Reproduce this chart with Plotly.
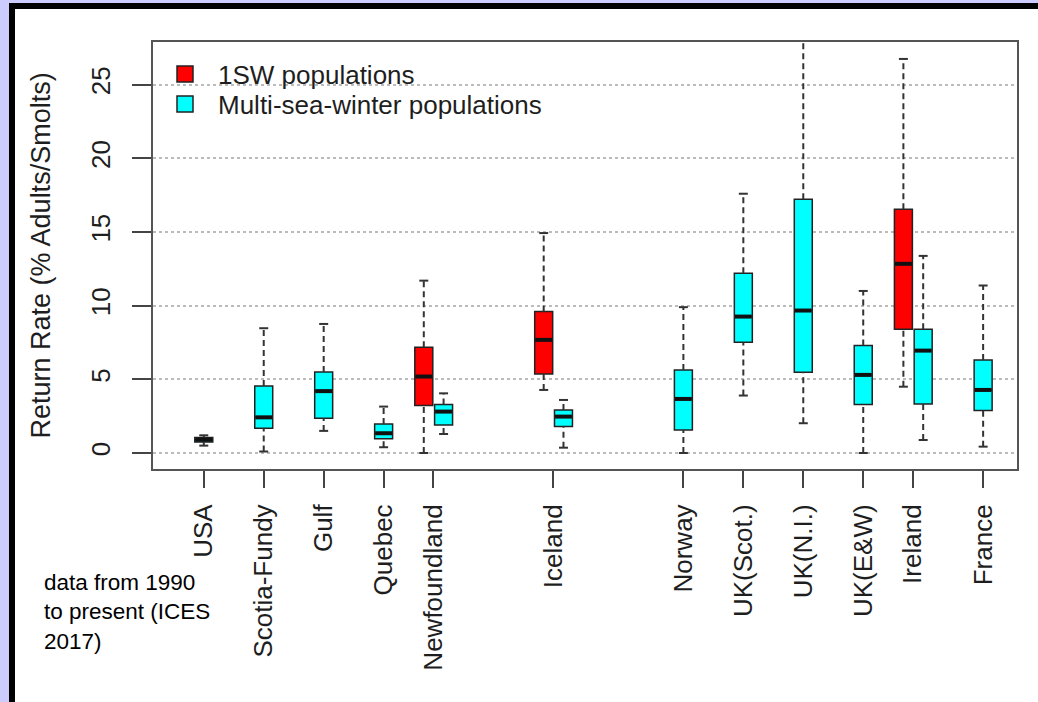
import plotly.graph_objects as go

# ---- data ----
categories = ["USA", "Scotia-Fundy", "Gulf", "Quebec", "Newfoundland", "Iceland",
              "Norway", "UK(Scot.)", "UK(N.I.)", "UK(E&W)", "Ireland", "France"]
tick_pos = [1, 2, 3, 4, 4.83, 6.83, 9, 10, 11, 12, 12.83, 14]

# 1SW populations (red)
sw1_pos = [4.67, 6.67, 12.67]
sw1_lo = [0.0, 4.28, 4.5]
sw1_q1 = [3.22, 5.37, 8.4]
sw1_med = [5.19, 7.68, 12.84]
sw1_q3 = [7.18, 9.6, 16.55]
sw1_hi = [11.7, 14.93, 26.75]

# Multi-sea-winter populations (cyan)
msw_pos = [1, 2, 3, 4, 5.0, 7.0, 9, 10, 11, 12, 13.0, 14]
msw_lo = [0.5, 0.1, 1.5, 0.39, 1.29, 0.36, 0.0, 3.9, 2.02, 0.0, 0.88, 0.43]
msw_q1 = [0.75, 1.68, 2.35, 0.97, 1.9, 1.79, 1.56, 7.52, 5.48, 3.3, 3.33, 2.88]
msw_med = [0.9, 2.42, 4.2, 1.34, 2.81, 2.47, 3.67, 9.26, 9.67, 5.3, 6.95, 4.28]
msw_q3 = [1.05, 4.55, 5.5, 1.97, 3.3, 2.92, 5.64, 12.2, 17.23, 7.29, 8.4, 6.32]
msw_hi = [1.2, 8.47, 8.76, 3.15, 4.05, 3.6, 9.9, 17.6, 28.5, 11.0, 13.38, 11.37]

y_ticks = [0, 5, 10, 15, 20, 25]

BOX_W = 0.3
FONT = "Liberation Sans, Arial, sans-serif"
TXT = "#1e1e1e"
EDGE = "#222222"
LAV = "#ccccff"

fig = go.Figure()


def add_group(pos, lo, q1, med, q3, hi, color, name):
    fig.add_trace(go.Box(
        x=pos, q1=q1, median=med, q3=q3, lowerfence=q1, upperfence=q3,
        width=BOX_W, fillcolor=color, line=dict(color=EDGE, width=1.5),
        name=name, showlegend=False, hoverinfo="skip", boxpoints=False))
    # whiskers (dashed)
    wx, wy = [], []
    for p, a, b, c, d in zip(pos, lo, q1, q3, hi):
        wx += [p, p, None, p, p, None]
        wy += [a, b, None, c, d, None]
    fig.add_trace(go.Scatter(x=wx, y=wy, mode="lines", showlegend=False,
                             hoverinfo="skip",
                             line=dict(color="#333333", width=2, dash="6px,4px")))
    # whisker caps
    cx, cy = [], []
    for p, a, d in zip(pos, lo, hi):
        cx += [p - BOX_W / 4, p + BOX_W / 4, None, p - BOX_W / 4, p + BOX_W / 4, None]
        cy += [a, a, None, d, d, None]
    fig.add_trace(go.Scatter(x=cx, y=cy, mode="lines", showlegend=False,
                             hoverinfo="skip", line=dict(color="#333333", width=2)))
    # thick medians
    mx, my = [], []
    for p, m in zip(pos, med):
        mx += [p - BOX_W / 2 + 0.01, p + BOX_W / 2 - 0.01, None]
        my += [m, m, None]
    fig.add_trace(go.Scatter(x=mx, y=my, mode="lines", showlegend=False,
                             hoverinfo="skip", line=dict(color="#111111", width=4)))


add_group(sw1_pos, sw1_lo, sw1_q1, sw1_med, sw1_q3, sw1_hi, "#ff0000", "1SW populations")
add_group(msw_pos, msw_lo, msw_q1, msw_med, msw_q3, msw_hi, "#00ffff", "Multi-sea-winter populations")

# legend entries (one legend each, so row spacing can match)
for nm, col, lg in [("1SW populations", "#ff0000", "legend"),
                    ("Multi-sea-winter populations", "#00ffff", "legend2")]:
    fig.add_trace(go.Scatter(x=[None], y=[None], mode="markers", name=nm, legend=lg,
                             marker=dict(symbol="square", size=16, color=col,
                                         line=dict(color=EDGE, width=1.5))))

L, R, T, B = 153, 21, 42, 233
W, H = 1038, 702
PW, PH = W - L - R, H - T - B


def px(x):
    return (x - L) / PW


def py(y):
    return (H - B - y) / PH


shapes = [
    # lavender frame strips (left, top)
    dict(type="rect", xref="paper", yref="paper", x0=px(-5), x1=px(9), y0=py(710), y1=py(-5),
         fillcolor=LAV, line=dict(width=0), layer="below"),
    dict(type="rect", xref="paper", yref="paper", x0=px(-5), x1=px(1045), y0=py(3), y1=py(-5),
         fillcolor=LAV, line=dict(width=0), layer="below"),
    # black borders (top, left)
    dict(type="rect", xref="paper", yref="paper", x0=px(9), x1=px(1045), y0=py(9), y1=py(3),
         fillcolor="black", line=dict(width=0), layer="below"),
    dict(type="rect", xref="paper", yref="paper", x0=px(9), x1=px(15), y0=py(710), y1=py(3),
         fillcolor="black", line=dict(width=0), layer="below"),
]

annotations = [
    dict(text="Return Rate (% Adults/Smolts)", textangle=-90, xref="paper", yref="paper",
         x=px(40), y=0.5, xanchor="center", yanchor="middle", showarrow=False,
         font=dict(family=FONT, size=27, color=TXT)),
    dict(text="data from 1990<br>to present (ICES<br>2017)", xref="paper", yref="paper",
         x=px(42), y=py(568), xanchor="left", yanchor="top", align="left", showarrow=False,
         font=dict(family=FONT, size=22.5, color="#000000")),
]

leg_common = dict(xanchor="left", yanchor="middle", bgcolor="rgba(0,0,0,0)",
                  font=dict(family=FONT, size=26, color=TXT), itemwidth=56,
                  borderwidth=0)

fig.update_layout(
    width=W, height=H,
    margin=dict(l=L, r=R, t=T, b=B, autoexpand=False),
    paper_bgcolor="white", plot_bgcolor="white",
    boxmode="overlay",
    font=dict(family=FONT, size=26, color=TXT),
    shapes=shapes, annotations=annotations,
    legend=dict(x=px(152), y=py(74), **leg_common),
    legend2=dict(x=px(152), y=py(104), **leg_common),
)
fig.update_xaxes(range=[0.153, 14.565], tickvals=tick_pos, ticktext=categories,
                 tickangle=-90, ticks="outside", ticklen=17, tickwidth=1.5,
                 tickcolor="#444444", showgrid=False, zeroline=False, automargin=False,
                 showline=True, mirror=True, linecolor="#555555", linewidth=2,
                 ticklabelstandoff=6)
fig.update_yaxes(range=[-1.087, 27.9], tickvals=y_ticks, tickangle=-90,
                 ticks="outside", ticklen=19, tickwidth=1.5, tickcolor="#444444",
                 showgrid=True, gridcolor="#bbbbbb", griddash="dot", gridwidth=1.5,
                 zeroline=False, showline=True, mirror=True, linecolor="#555555",
                 linewidth=2, ticklabelstandoff=12, automargin=False)

fig.write_html("out.html", config={"displayModeBar": False},
               post_script="document.body.style.margin='0px';document.body.style.overflow='hidden';")
